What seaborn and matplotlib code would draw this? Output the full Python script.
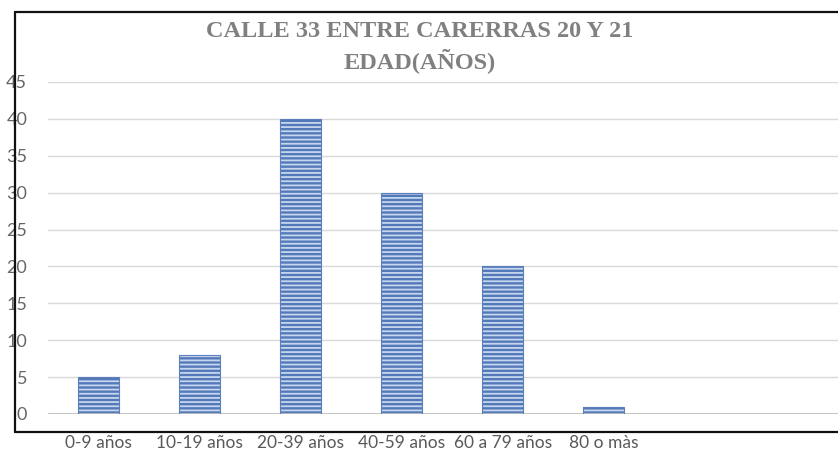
import matplotlib
matplotlib.use("Agg")
import matplotlib.pyplot as plt
import seaborn as sns
import pandas as pd
from matplotlib.patches import Rectangle
from matplotlib.lines import Line2D

categories = ["0-9 años", "10-19 años", "20-39 años", "40-59 años", "60 a 79 años", "80 o màs"]
values = [5, 8, 40, 30, 20, 1]
title_lines = ["CALLE 33 ENTRE CARERRAS 20 Y 21", "EDAD(AÑOS)"]
yticks = [0, 5, 10, 15, 20, 25, 30, 35, 40, 45]

df = pd.DataFrame({"cat": categories, "val": values})

sns.set_theme(style="white")
plt.rcParams["hatch.linewidth"] = 1.3

W, H = 838, 455
fig = plt.figure(figsize=(W / 100, H / 100), dpi=100)
ax = fig.add_axes([48 / W, 41 / H, 790 / W, 332 / H])

sns.barplot(data=df, x="cat", y="val", ax=ax, color="#5479b9", width=0.4,
            saturation=1)

for p in list(ax.patches):
    p.set_hatch("----")
    p.set_edgecolor("#c6d6ee")
    p.set_linewidth(0)
    ax.add_patch(Rectangle(p.get_xy(), p.get_width(), p.get_height(),
                           fill=False, edgecolor="#5a7fbd", linewidth=0.8, zorder=3))

ax.set_xlim(-0.5, 7.32)
ax.set_ylim(0, 45)
ax.set_yticks(yticks)
ax.set_xlabel("")
ax.set_ylabel("")
for s in ax.spines.values():
    s.set_visible(False)
ax.grid(axis="y", color="#d9d9d9", linewidth=1)
ax.set_axisbelow(True)
ax.axhline(0, color="#bfbfbf", linewidth=2, zorder=2)

ax.tick_params(axis="y", length=0, pad=15, labelsize=13, labelcolor="#666666")
ax.tick_params(axis="x", length=0, pad=15, labelsize=12.5, labelcolor="#595959")
for lab in ax.get_xticklabels() + ax.get_yticklabels():
    lab.set_family(["Lato", "DejaVu Sans"])

fig.text(0.501, 0.897, "\n".join(title_lines), ha="center", va="center",
         fontsize=17.5, fontweight="bold", color="#808080",
         family=["Liberation Serif", "DejaVu Serif"], linespacing=1.3)

# document frame
fig.add_artist(Line2D([15 / W, 15 / W], [1 - 12 / H, 1 - 432 / H], color="#111111", linewidth=1.6))
fig.add_artist(Line2D([15 / W, 1.0], [1 - 12 / H, 1 - 12 / H], color="#111111", linewidth=1.6))
fig.add_artist(Line2D([15 / W, 1.0], [1 - 432 / H, 1 - 432 / H], color="#111111", linewidth=1.6))

fig.savefig("out.png", dpi=100)
